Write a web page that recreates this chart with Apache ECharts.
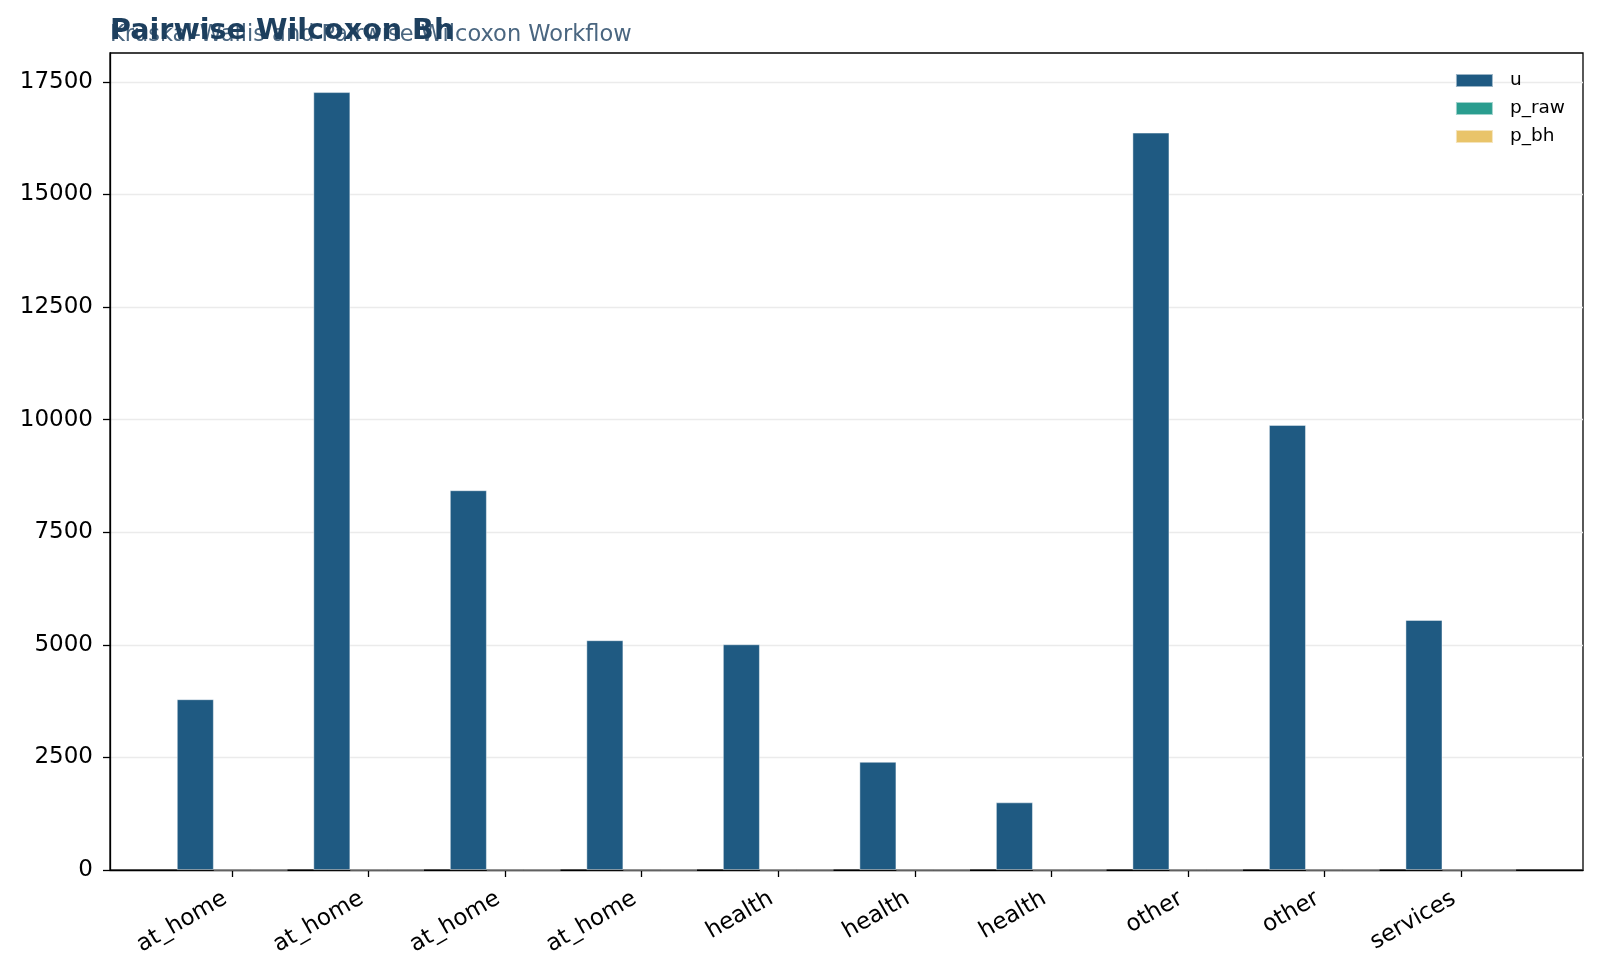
<!DOCTYPE html>
<html>
<head>
<meta charset="utf-8">
<script src="https://cdn.jsdelivr.net/npm/echarts@6/dist/echarts.min.js"></script>
<style>html,body{margin:0;padding:0;background:#fff;}#c{width:1600px;height:978px;}</style>
</head>
<body>
<div id="c"></div>
<script>
const categories = ['at_home','at_home','at_home','at_home','health','health','health','other','other','services'];
const uValues = [3790, 17270, 8430, 5100, 5010, 2400, 1500, 16370, 9880, 5550];
const pRawValues = [0.0004, 0.0021, 0.0013, 0.0009, 0.0031, 0.0006, 0.0002, 0.0017, 0.0011, 0.0024];
const pBhValues = [0.0012, 0.0042, 0.0026, 0.0018, 0.0052, 0.0015, 0.0008, 0.0034, 0.0024, 0.0040];
const yTicks = [0, 2500, 5000, 7500, 10000, 12500, 15000, 17500];
const titleText = 'Pairwise Wilcoxon Bh';
const subtitleText = 'Kruskal-Wallis and Pairwise Wilcoxon Workflow';

const idx = categories.map((_, i) => i);
const font = 'DejaVu Sans';
function pts(vals) { return vals.map((v, i) => [i, v]); }
function barSeries(name, vals, color) {
  return {
    name: name, type: 'bar', data: pts(vals),
    barGap: '0%', barCategoryGap: '19%',
    itemStyle: { color: color, borderColor: 'rgba(255,255,255,0.55)', borderWidth: 0.8 },
    emphasis: { disabled: true }
  };
}
const chart = echarts.init(document.getElementById('c'), null, { renderer: 'canvas' });
chart.setOption({
  animation: false,
  backgroundColor: '#ffffff',
  title: [
    { text: subtitleText, left: 105, top: 19, textStyle: { fontFamily: font, fontSize: 22.5, fontWeight: 'normal', color: '#4a6680' } },
    { text: titleText, left: 105, top: 12, textStyle: { fontFamily: font, fontSize: 28.6, fontWeight: 'bold', color: '#1d3f5e' } }
  ],
  legend: {
    orient: 'vertical', right: 30, top: 66,
    itemWidth: 37, itemHeight: 13, itemGap: 9,
    icon: 'rect',
    textStyle: { fontFamily: font, fontSize: 18.5, color: '#000', padding: [0, 0, 0, 12] },
    data: ['u', 'p_raw', 'p_bh']
  },
  grid: { left: 110, right: 17, top: 53, bottom: 108, show: true, borderColor: '#000', borderWidth: 1.3, containLabel: false },
  xAxis: {
    type: 'value', min: -0.895, max: 9.895,
    axisLine: { show: true, onZero: false, lineStyle: { color: '#000', width: 1.3 } },
    axisTick: { show: true, customValues: idx, length: 7, lineStyle: { color: '#000', width: 1.3 } },
    axisLabel: {
      customValues: idx, rotate: 30, fontFamily: font, fontSize: 23, color: '#000', margin: 23,
      padding: [0, 8, 0, 0],
      formatter: v => categories[Math.round(v)]
    },
    splitLine: { show: false }
  },
  yAxis: {
    type: 'value', min: 0, max: 18140,
    axisLine: { show: true, onZero: false, lineStyle: { color: '#000', width: 1.3 } },
    axisTick: { show: true, customValues: yTicks, length: 7, lineStyle: { color: '#000', width: 1.3 } },
    axisLabel: { customValues: yTicks, fontFamily: font, fontSize: 23, color: '#000', margin: 17, formatter: v => String(v) },
    splitLine: { show: true, lineStyle: { color: '#ebebeb', width: 1.3 } },
    interval: 2500
  },
  series: [
    barSeries('u', uValues, '#1f5a82'),
    barSeries('p_raw', pRawValues, '#2a9d8f'),
    barSeries('p_bh', pBhValues, '#e9c46a')
  ]
});
</script>
</body>
</html>
